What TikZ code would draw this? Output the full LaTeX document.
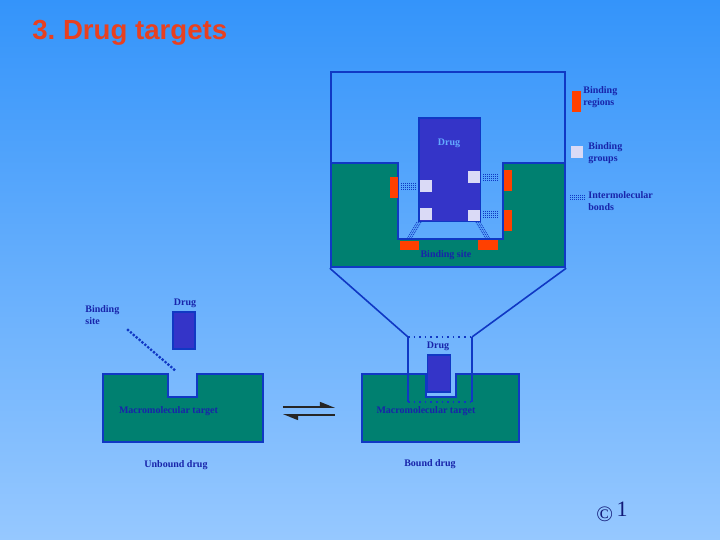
\documentclass[tikz,border=0pt]{standalone}
\usepackage{fontspec}
\setmainfont{Liberation Serif}
\newfontfamily\titlefont{Liberation Sans}
\usetikzlibrary{arrows.meta}
\definecolor{skyTop}{RGB}{52,148,250}
\definecolor{skyBottom}{RGB}{150,200,255}
\definecolor{titleRed}{RGB}{232,64,32}
\definecolor{targetFill}{RGB}{0,128,112}
\definecolor{frameStroke}{RGB}{16,56,196}
\definecolor{drugFill}{RGB}{52,52,200}
\definecolor{regionFill}{RGB}{255,64,0}
\definecolor{groupFill}{RGB}{218,218,246}
\definecolor{labelInk}{RGB}{24,36,170}
\definecolor{drugText}{RGB}{100,170,255}
\colorlet{ink}{black!85}
\frenchspacing
\tikzset{
  target/.style={draw=frameStroke, fill=targetFill, line width=1pt},
  drugbox/.style={draw=frameStroke, fill=drugFill, line width=0.8pt, inner sep=0pt},
  region/.style={fill=regionFill},
  group/.style={fill=groupFill, inner sep=0pt, minimum size=5.8pt},
  bond/.style={draw=frameStroke, line width=0.4pt, dash pattern=on 0.5pt off 0.5pt},
  label/.style={font=\bfseries\fontsize{5}{6}\selectfont, text=labelInk, inner sep=0pt, align=left},
  frame/.style={draw=frameStroke, line width=1.2pt, inner sep=0pt},
  funnel/.style={draw=frameStroke, line width=0.8pt},
  beads/.style={draw=frameStroke, line width=1.6pt, line cap=round, dash pattern=on 0pt off 1.9pt},
  harpoon/.style={draw=ink, line width=0.8pt, -{Triangle[left, length=6.5pt, width=5pt]}}
}
% patch of dotted ticks: x, y, height
\newcommand{\BondPatch}[3]{%
  \foreach \k in {0,...,7}
    \draw[bond] (#1+2*\k,#2) -- (#1+2*\k,#2+#3);
}

\begin{document}
\begin{tikzpicture}[x=0.5pt,y=-0.5pt]
  \shade[top color=skyTop, bottom color=skyBottom] (0,0) rectangle (720,540);
  \useasboundingbox (0,0) rectangle (720,540);

  \node[font=\titlefont\bfseries\fontsize{13.8}{16}\selectfont, text=titleRed, anchor=base west, inner sep=0pt] (title) at (32,40) {3. Drug targets};

  % close-up of the binding site
  \draw[target] (331,163) -- (398,163) -- (398,239) -- (503,239) -- (503,163) -- (565,163) -- (565,267) -- (331,267) -- cycle;
  \node[drugbox, minimum width=30.7pt, minimum height=51.7pt] (bigdrug) at (450,170) {};
  \node[label, text=drugText] (bigdruglabel) at (449,143) {Drug};

  \node[group] (grp1) at (426,186) {};
  \node[group] (grp2) at (426,214) {};
  \node[group] (grp3) at (474,177) {};
  \node[group] (grp4) at (474,215.5) {};

  \fill[region] (390,177) rectangle (398,198);
  \fill[region] (504,170) rectangle (512,191);
  \fill[region] (504,210) rectangle (512,231);
  \fill[region] (400,241) rectangle (419,250);
  \fill[region] (478,240) rectangle (498,250);

  \BondPatch{401}{183}{7}
  \BondPatch{483}{174}{7}
  \BondPatch{483}{211}{7}
  \foreach \d in {-2,0,2} {
    \draw[bond] (419+\d,222) -- (409+\d,239);
    \draw[bond] (478+\d,222) -- (488+\d,239);
  }

  \node[label] (sitelabel) at (446,255) {Binding site};
  \node[frame, minimum width=117pt, minimum height=97.5pt] (zoomframe) at (448,169.5) {};

  % legend
  \fill[region] (572,91) rectangle (581,112);
  \node[label, anchor=west] (keyregions) at (583,97) {Binding\\regions};
  \node[group] (keygroup) at (577,152) {};
  \node[label, anchor=west] (keygroups) at (588,153) {Binding\\groups};
  \BondPatch{570}{195}{6}
  \node[label, anchor=west] (keybonds) at (588,201) {Intermolecular\\bonds};

  % unbound drug
  \draw[target] (103,374) -- (168,374) -- (168,397) -- (197,397) -- (197,374) -- (263,374) -- (263,442) -- (103,442) -- cycle;
  \node[drugbox, minimum width=11pt, minimum height=18.5pt] (freedrug) at (184.3,330.8) {};
  \node[label] (freedruglabel) at (185,303) {Drug};
  \node[label, anchor=west] (freesite) at (85,315) {Binding\\site};
  \coordinate (beadsStart) at (128,330);
  \coordinate (beadsEnd) at (177,372);
  \draw[beads] (beadsStart) -- (beadsEnd);
  \node[label] (freetarget) at (168.5,411) {Macromolecular target};
  \node[label] (unbound) at (176,465) {Unbound drug};

  % equilibrium
  \coordinate (eqL) at (283,407);
  \coordinate (eqR) at (335,407);
  \draw[harpoon] (eqL) -- (eqR);
  \draw[harpoon] ([yshift=-4pt]eqR) -- ([yshift=-4pt]eqL);

  % bound drug
  \draw[target] (362,374) -- (426,374) -- (426,397) -- (456,397) -- (456,374) -- (519,374) -- (519,442) -- (362,442) -- cycle;
  \node[drugbox, minimum width=11.5pt, minimum height=18.5pt] (bounddrug) at (439.2,373.7) {};
  \node[label] (bounddruglabel) at (438,346) {Drug};
  \node[label] (boundtarget) at (426,411) {Macromolecular target};
  \node[label] (bound) at (430,464) {Bound drug};

  \coordinate (srcNW) at (408,337);
  \coordinate (srcNE) at (472,337);
  \coordinate (srcSW) at (408,402);
  \coordinate (srcSE) at (472,402);
  \draw[funnel] (srcNW) -- (srcSW) (srcNE) -- (srcSE);
  \draw[funnel, dotted] (srcNW) -- (srcNE) (srcSW) -- (srcSE);
  \draw[funnel] (zoomframe.south west) -- (srcNW);
  \draw[funnel] (zoomframe.south east) -- (srcNE);

  \node[font=\fontsize{11}{12}\selectfont, text=labelInk!70!black] (copyright) at (612,512) {\textcopyright\,\raisebox{0.45ex}{1}};
\end{tikzpicture}
\end{document}
